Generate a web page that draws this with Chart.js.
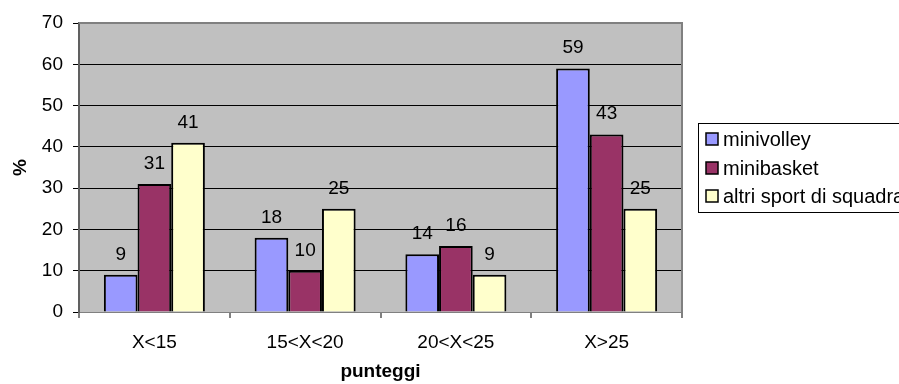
<!DOCTYPE html>
<html>
<head>
<meta charset="utf-8">
<script src="https://cdn.jsdelivr.net/npm/chart.js@4"></script>
<style>
  html, body { margin: 0; padding: 0; background: #fff; overflow: hidden; }
  #wrap { width: 899px; height: 384px; }
</style>
</head>
<body>
<div id="wrap"><canvas id="myChart" width="899" height="384"></canvas></div>
<script>
// chart data
var categories = ["X<15", "15<X<20", "20<X<25", "X>25"];
var minivolley = [9, 18, 14, 59];
var minibasket = [31, 10, 16, 43];
var altriSport = [41, 25, 9, 25];
var seriesNames = ["minivolley", "minibasket", "altri sport di squadra"];
var seriesColors = ["#9999FF", "#993366", "#FFFFCC"];
var yTicks = [0, 10, 20, 30, 40, 50, 60, 70];

var FONT = "'Liberation Sans', Arial, sans-serif";
var FSIZE = 19;

// grey plot area like the old excel charts
var plotBackground = {
    id: "plotBackground",
    beforeDraw: function(chart){
        var a = chart.chartArea;
        var ctx = chart.ctx;
        ctx.save();
        ctx.fillStyle = "#C0C0C0";
        ctx.fillRect(a.left, a.top, a.right - a.left, a.bottom - a.top);
        ctx.restore();
    },
    afterDraw: function(chart){
        var a = chart.chartArea;
        var ctx = chart.ctx;
        ctx.save();
        ctx.strokeStyle = "#808080";
        ctx.lineWidth = 2;
        ctx.beginPath();
        ctx.moveTo(a.left, a.top);
        ctx.lineTo(a.right, a.top);
        ctx.lineTo(a.right, a.bottom);
        ctx.stroke();
        ctx.restore();
    }
};

// numbers on top of every bar
var barLabels = {
    id: "barLabels",
    afterDatasetsDraw: function(chart){
        var ctx = chart.ctx;
        ctx.save();
        ctx.font = FSIZE + "px " + FONT;
        ctx.fillStyle = "#000";
        ctx.textAlign = "center";
        ctx.textBaseline = "alphabetic";
        chart.data.datasets.forEach(function(ds, i){
            var meta = chart.getDatasetMeta(i);
            meta.data.forEach(function(bar, j){
                ctx.fillText(ds.data[j], bar.x, bar.y - 15);
            });
        });
        ctx.restore();
    }
};

// legend box on the right, cut off by the edge like in the original
var boxLegend = {
    id: "boxLegend",
    afterDraw: function(chart){
        var ctx = chart.ctx;
        var left = 698, top = 123, rowH = 28.5;
        ctx.save();
        ctx.strokeStyle = "#000";
        ctx.lineWidth = 1;
        ctx.strokeRect(left + 0.5, top + 0.5, 300, 89);
        ctx.font = "20px " + FONT;
        ctx.textBaseline = "middle";
        chart.data.datasets.forEach(function(ds, i){
            var cy = Math.round(top + 16 + i * rowH);
            ctx.fillStyle = ds.backgroundColor;
            ctx.fillRect(left + 8, cy - 6, 12, 12);
            ctx.lineWidth = 1.5;
            ctx.strokeRect(left + 8, cy - 6, 12, 12);
            ctx.fillStyle = "#000";
            ctx.fillText(ds.label, left + 25, cy + 1);
        });
        ctx.restore();
    }
};

var datasets = [minivolley, minibasket, altriSport].map(function(vals, i){
    return {
        label: seriesNames[i],
        data: vals,
        backgroundColor: seriesColors[i],
        borderColor: "#000",
        borderWidth: 2,
        categoryPercentage: 0.67,
        barPercentage: 1.0
    };
});

new Chart("myChart", {
    type: "bar",
    data: {
        labels: categories,
        datasets: datasets
    },
    options: {
        responsive: false,
        animation: false,
        layout: { padding: { left: 0, top: 23, right: 217, bottom: 0 } },
        plugins: {
            legend: { display: false },
            tooltip: { enabled: false }
        },
        scales: {
            x: {
                grid: {
                    offset: true,
                    drawOnChartArea: false,
                    drawTicks: true,
                    tickLength: 6,
                    color: "#808080",
                    lineWidth: 2
                },
                border: { color: "#808080", width: 1 },
                ticks: { color: "#000", font: { family: FONT, size: FSIZE }, padding: 13 },
                title: {
                    display: true,
                    text: "punteggi",
                    color: "#000",
                    font: { family: FONT, size: FSIZE, weight: "bold" },
                    padding: { top: 0, bottom: 1 }
                },
                afterFit: function(scale){ scale.height = 72; }
            },
            y: {
                min: 0,
                max: 70,
                afterBuildTicks: function(scale){
                    scale.ticks = yTicks.map(function(v){ return { value: v }; });
                },
                grid: {
                    color: "#000",
                    lineWidth: 1,
                    drawTicks: true,
                    tickLength: 6,
                    tickColor: "#000"
                },
                border: { color: "#606060", width: 2 },
                ticks: { color: "#000", font: { family: FONT, size: FSIZE }, padding: 10 },
                title: {
                    display: true,
                    text: "%",
                    color: "#000",
                    font: { family: FONT, size: FSIZE, weight: "bold" },
                    padding: { top: 9, bottom: 0 }
                },
                afterFit: function(scale){ scale.width = 79; }
            }
        }
    },
    plugins: [plotBackground, barLabels, boxLegend]
});
</script>
</body>
</html>
